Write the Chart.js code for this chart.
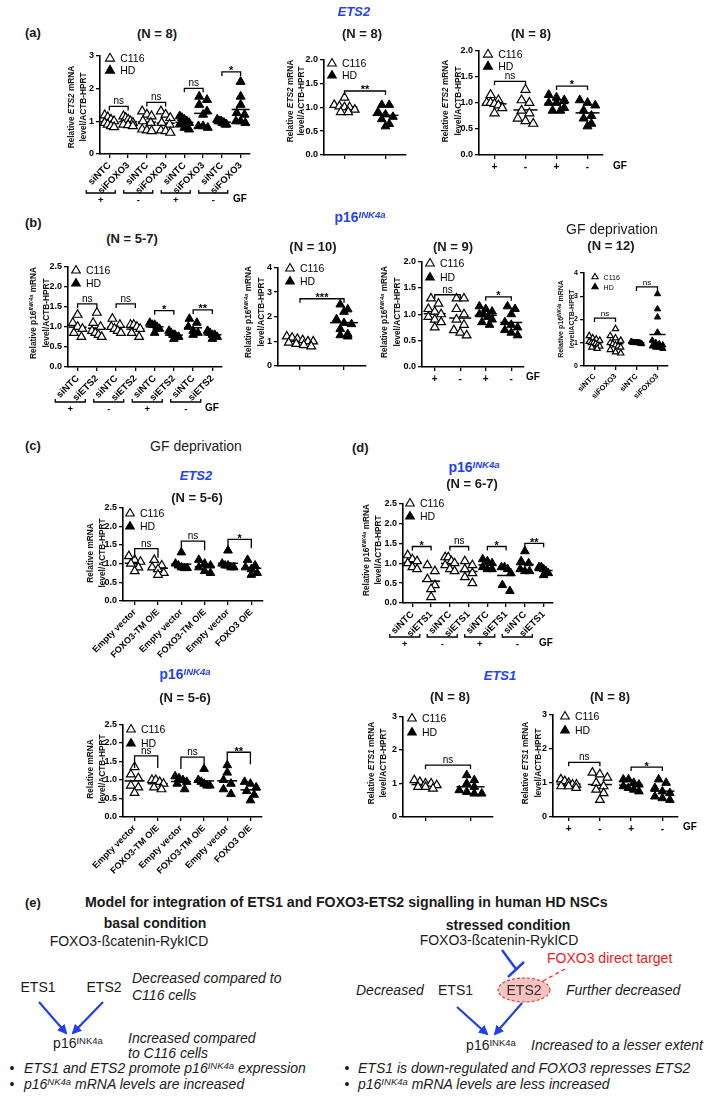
<!DOCTYPE html>
<html>
<head>
<meta charset="utf-8">
<title>ETS2 / p16INK4a / ETS1 in HD NSCs</title>
<script src="https://cdn.jsdelivr.net/npm/chart.js@4.4.1/dist/chart.umd.min.js"></script>
<style>
  body { margin: 0; background: #fff; }
  #fig { position: relative; width: 709px; height: 1102px; overflow: hidden; background: #fff;
         font-family: 'Liberation Sans', Arial, Helvetica, sans-serif; color: #1a1a1a; }
  #fig canvas, #fig svg { position: absolute; }
  .t, .l, .yt { position: absolute; white-space: nowrap; line-height: 1; }
  .t { transform: translate(-50%, -50%); }
  .l { transform: translateY(-50%); }
  .yt { transform: translate(-50%, -50%) rotate(-90deg); font-weight: bold; font-size: 8.3px; color: #111; }
  .blue { color: #2442f2; font-weight: bold; }
  sup { font-size: 68%; position: relative; top: -0.45em; vertical-align: baseline; line-height: 0; }
</style>
</head>
<body>
<div id="fig">
<svg width="709" height="1102" style="left:0;top:0">
  <defs>
    <marker id="ah" viewBox="0 0 10 10" refX="8" refY="5" markerWidth="4.5" markerHeight="4.5" orient="auto">
      <path d="M0,0 L10,5 L0,10 z" fill="#2040f0"/>
    </marker>
  </defs>
  <!-- basal condition -->
  <line x1="39" y1="1002" x2="66" y2="1033" stroke="#2040f0" stroke-width="2.2" marker-end="url(#ah)"/>
  <line x1="103" y1="1002" x2="73" y2="1033" stroke="#2040f0" stroke-width="2.2" marker-end="url(#ah)"/>
  <!-- stressed condition -->
  <line x1="502" y1="950" x2="516" y2="969" stroke="#2040f0" stroke-width="2.4"/>
  <line x1="508" y1="977" x2="524" y2="962" stroke="#2040f0" stroke-width="2.4"/>
  <line x1="565" y1="969" x2="543" y2="981" stroke="#ee2222" stroke-width="1.2" stroke-dasharray="4,3"/>
  <ellipse cx="524" cy="990" rx="26" ry="12" fill="#f2c4c2" stroke="#e83030" stroke-width="1.1" stroke-dasharray="3,2"/>
  <line x1="457" y1="1007" x2="487" y2="1034" stroke="#2040f0" stroke-width="2.2" marker-end="url(#ah)"/>
  <line x1="522" y1="1003" x2="495" y2="1034" stroke="#2040f0" stroke-width="2.2" marker-end="url(#ah)"/>
</svg>
</div>
<script>
const FONT = "'Liberation Sans', Arial, Helvetica, sans-serif";
Chart.defaults.font.family = FONT;
Chart.defaults.color = '#000';
const fig = document.getElementById('fig');

// ---------- (a) ETS2 ----------
const a1Cats = ["siNTC", "siFOXO3", "siNTC", "siFOXO3", "siNTC", "siFOXO3", "siNTC", "siFOXO3"];
const a1C116 = [
  [1.18, 1.12, 1.05, 1.0, 0.95, 0.9, 0.85, 0.82],
  [1.15, 1.1, 1.05, 1.0, 0.95, 0.9, 0.88, 0.85],
  [1.3, 1.2, 1.15, 1.0, 0.95, 0.75, 0.7, 0.72],
  [1.3, 1.2, 1.1, 0.95, 0.9, 0.7, 0.65, 0.72]
];
const a1HD = [
  [1.15, 1.1, 1.05, 1.0, 0.95, 0.9, 0.8, 0.75],
  [1.75, 1.65, 1.5, 1.3, 1.2, 0.85, 0.85, 0.8],
  [1.05, 1.0, 1.0, 0.95, 0.95, 0.9, 0.9, 1.0],
  [2.2, 1.75, 1.5, 1.25, 1.2, 1.0, 1.0, 0.95]
];
const a1Sig = [[0, 1, 1.45, "ns"], [2, 3, 1.57, "ns"], [4, 5, 2.0, "ns"], [6, 7, 2.5, "*"]];
const gfSigns = ["+", "-", "+", "-"];

const a2Cats = ["C116", "HD"];
const a2C116 = [[1.2, 1.05, 1.02, 1.0, 1.0, 0.95, 0.9, 0.9]];
const a2HD = [[1.05, 1.05, 0.9, 0.85, 0.8, 0.75, 0.65, 0.6]];
const a2Sig = [[0, 1, 1.34, "**"]];

const a3C116 = [[1.15, 1.05, 1.0, 1.0, 0.98, 0.95, 0.9, 0.8], [1.25, 1.05, 1.0, 0.85, 0.8, 0.7, 0.65, 0.6]];
const a3HD = [[1.15, 1.1, 1.05, 1.0, 1.0, 0.9, 0.85, 0.85], [1.05, 1.0, 0.95, 0.85, 0.75, 0.7, 0.6, 0.55]];
const a3Sig = [[0, 1, 1.41, "ns"], [2, 3, 1.32, "*"]];

// ---------- (b) p16INK4a ----------
const b1Cats = ["siNTC", "siETS2", "siNTC", "siETS2", "siNTC", "siETS2", "siNTC", "siETS2"];
const b1C116 = [
  [1.3, 1.1, 1.0, 0.95, 0.85, 0.75],
  [1.35, 1.1, 1.0, 0.9, 0.85, 0.8, 0.75],
  [1.2, 1.05, 1.0, 0.95, 0.9, 0.85],
  [1.05, 1.05, 1.0, 0.95, 0.85, 0.75]
];
const b1HD = [
  [1.1, 1.05, 1.05, 1.0, 0.95, 0.85],
  [0.9, 0.85, 0.8, 0.8, 0.75, 0.75, 0.7],
  [1.2, 1.1, 1.0, 0.9, 0.85, 0.8],
  [0.9, 0.85, 0.8, 0.8, 0.75, 0.7]
];
const b1Sig = [[0, 1, 1.57, "ns"], [2, 3, 1.57, "ns"], [4, 5, 1.4, "*"], [6, 7, 1.42, "**"]];

const b2C116 = [[1.2, 1.15, 1.1, 1.05, 1.0, 1.0, 0.95, 0.9, 0.85, 0.8]];
const b2HD = [[2.5, 2.3, 2.2, 1.9, 1.75, 1.7, 1.5, 1.3, 1.25, 1.2]];
const b2Sig = [[0, 1, 2.73, "***"]];

const b3C116 = [[1.3, 1.2, 1.1, 1.05, 1.0, 0.95, 0.9, 0.85, 0.75], [1.3, 1.3, 1.1, 1.0, 0.9, 0.8, 0.7, 0.65, 0.6]];
const b3HD = [[1.15, 1.1, 1.05, 1.0, 1.0, 0.95, 0.9, 0.85, 0.8], [1.15, 1.1, 1.0, 0.85, 0.8, 0.75, 0.7, 0.65, 0.6]];
const b3Sig = [[0, 1, 1.37, "ns"], [2, 3, 1.33, "*"]];

const b4Cats = ["siNTC", "siFOXO3", "siNTC", "siFOXO3"];
const b4C116 = [
  [1.3, 1.2, 1.15, 1.1, 1.05, 1.0, 1.0, 0.95, 0.9, 0.85, 0.8, 0.75],
  [1.6, 1.3, 1.2, 1.1, 1.0, 0.95, 0.9, 0.85, 0.8, 0.7, 0.6, 0.55]
];
const b4HD = [
  [1.05, 1.02, 1.0, 1.0, 1.0, 1.0, 0.98, 0.97, 0.95, 1.0, 1.0, 1.0],
  [3.1, 2.45, 2.1, 1.45, 1.1, 1.0, 0.95, 0.9, 0.85, 0.8, 0.8, 0.75]
];
const b4Sig = [[0, 1, 2.06, "ns"], [2, 3, 3.4, "ns"]];

// ---------- (c) GF deprivation ----------
const cCats = ["Empty vector", "FOXO3-TM O/E", "Empty vector", "FOXO3-TM O/E", "Empty vector", "FOXO3 O/E"];
const c1C116 = [[1.2, 1.1, 1.05, 1.0, 0.9, 0.8], [1.1, 0.95, 0.9, 0.85, 0.75, 0.7]];
const c1HD = [[1.3, 1.0, 0.95, 0.9, 0.88, 0.88], [1.1, 1.0, 0.95, 0.9, 0.8, 0.75],
              [1.35, 1.0, 0.95, 0.95, 0.9, 0.9], [1.1, 0.95, 0.9, 0.85, 0.75, 0.7]];
const c1Sig = [[0, 1, 1.4, "ns"], [2, 3, 1.6, "ns"], [4, 5, 1.65, "*"]];

const c2C116 = [[1.35, 1.15, 1.05, 0.85, 0.8, 0.65], [1.0, 1.0, 0.95, 0.9, 0.8, 0.75]];
const c2HD = [[1.1, 1.05, 1.0, 0.95, 0.9, 0.75], [1.3, 1.0, 0.95, 0.9, 0.85, 0.85],
              [1.4, 1.2, 1.0, 0.9, 0.75, 0.62], [0.95, 0.9, 0.8, 0.7, 0.6, 0.45]];
const c2Sig = [[0, 1, 1.65, "ns"], [2, 3, 1.62, "ns"], [4, 5, 1.75, "**"]];

// ---------- (d) p16INK4a and ETS1 ----------
const d1Cats = ["siNTC", "siETS1", "siNTC", "siETS1", "siNTC", "siETS1", "siNTC", "siETS1"];
const d1C116 = [
  [1.2, 1.1, 1.05, 1.0, 0.9, 0.85],
  [0.95, 0.8, 0.6, 0.45, 0.35, 0.15],
  [1.15, 1.15, 1.05, 1.0, 0.95, 0.85, 0.8],
  [1.05, 0.95, 0.85, 0.75, 0.65, 0.5]
];
const d1HD = [
  [1.1, 1.05, 1.0, 0.9, 0.85, 0.85],
  [0.9, 0.9, 0.85, 0.75, 0.45, 0.3],
  [1.3, 1.05, 1.0, 0.85, 0.8, 0.8],
  [0.9, 0.9, 0.85, 0.8, 0.75, 0.7]
];
const d1Sig = [[0, 1, 1.42, "*"], [2, 3, 1.42, "ns"], [4, 5, 1.42, "*"], [6, 7, 1.5, "**"]];

const d2C116 = [[1.1, 1.05, 1.0, 1.0, 0.95, 0.9, 0.9, 0.85]];
const d2HD = [[1.25, 1.1, 1.0, 0.9, 0.8, 0.75, 0.7, 0.7]];
const d2Sig = [[0, 1, 1.55, "ns"]];

const d3C116 = [[1.1, 1.05, 1.0, 0.95, 0.95, 0.9, 0.9, 0.85], [1.3, 1.25, 1.15, 1.0, 0.9, 0.8, 0.7, 0.5]];
const d3HD = [[1.1, 1.1, 1.0, 0.95, 0.9, 0.85, 0.8, 0.75], [1.1, 1.0, 0.85, 0.75, 0.7, 0.6, 0.55, 0.5]];
const d3Sig = [[0, 1, 1.6, "ns"], [2, 3, 1.46, "*"]];

// text helper
function put(html, x, y, css, cls) {
  const d = document.createElement('div');
  d.className = cls || 't';
  d.innerHTML = html;
  d.style.left = x + 'px';
  d.style.top = y + 'px';
  if (css) d.style.cssText += css;
  fig.appendChild(d);
}

// spread points of one group in rows (GraphPad-like scatter dot plot)
function swarm(vals, cat, pxX, pxY, r, maxW) {
  const h = r * 1.3, w = r * 1.5;
  const sorted = vals.slice().sort((a, b) => b - a);
  const rows = [];
  sorted.forEach(v => {
    const row = rows[rows.length - 1];
    if (row && (row[0] - v) * pxY < h) row.push(v); else rows.push([v]);
  });
  const pts = [];
  rows.forEach(row => {
    const k = row.length;
    const sp = k > 1 ? Math.min(w, maxW / (k - 1)) : 0;
    row.forEach((v, j) => pts.push({ x: cat + (j - (k - 1) / 2) * sp / pxX, y: v }));
  });
  return pts;
}

function tri(ctx, x, y, r, fill) {
  ctx.beginPath();
  ctx.moveTo(x, y - r);
  ctx.lineTo(x + r * 0.866, y + r * 0.5);
  ctx.lineTo(x - r * 0.866, y + r * 0.5);
  ctx.closePath();
  ctx.fillStyle = fill ? '#000' : '#fff';
  ctx.fill();
  ctx.lineWidth = 1.1;
  ctx.stroke();
}

function decorate(chart, s) {
  const ctx = chart.ctx, xs = chart.scales.x, ys = chart.scales.y, ca = chart.chartArea;
  ctx.save();
  ctx.strokeStyle = '#000';
  // legend
  const [lx, ly, lg] = s.leg, lr = s.lr || s.r;
  tri(ctx, ca.left + lx, ca.top + ly, lr, false);
  tri(ctx, ca.left + lx, ca.top + ly + lg, lr, true);
  ctx.fillStyle = '#000';
  ctx.font = (s.lfs || 10.5) + 'px ' + FONT;
  ctx.textAlign = 'left';
  ctx.textBaseline = 'middle';
  ctx.fillText('C116', ca.left + lx + lr + 5, ca.top + ly + 1);
  ctx.fillText('HD', ca.left + lx + lr + 5, ca.top + ly + lg + 1);
  // significance brackets
  const fs = s.sfs || 10, leg = s.sleg || 4;
  ctx.lineWidth = 1.3;
  ctx.textAlign = 'center';
  s.sig.forEach(([i, j, v, lab]) => {
    const x1 = xs.getPixelForValue(i), x2 = xs.getPixelForValue(j), y = ys.getPixelForValue(v);
    ctx.beginPath();
    ctx.moveTo(x1, y + leg); ctx.lineTo(x1, y); ctx.lineTo(x2, y); ctx.lineTo(x2, y + leg);
    ctx.stroke();
    ctx.textBaseline = 'alphabetic';
    if (lab === 'ns') {
      ctx.font = fs + 'px ' + FONT;
      ctx.fillText(lab, (x1 + x2) / 2, y - 2);
    } else {
      ctx.font = 'bold ' + (fs + 1) + 'px ' + FONT;
      ctx.fillText(lab, (x1 + x2) / 2, y - 2 + 0.4 * (fs + 1));
    }
  });
  // GF group brackets under rotated labels
  ctx.font = 'bold 9.5px ' + FONT;
  ctx.textBaseline = 'middle';
  if (s.grp) {
    s.grp.forEach((lab, k) => {
      const cx = (xs.getPixelForValue(2 * k) + xs.getPixelForValue(2 * k + 1)) / 2 + s.gOff;
      const y = ca.bottom + s.gDy;
      ctx.beginPath();
      ctx.moveTo(cx - s.hw, y - 3); ctx.lineTo(cx - s.hw, y); ctx.lineTo(cx + s.hw, y); ctx.lineTo(cx + s.hw, y - 3);
      ctx.stroke();
      ctx.fillText(lab, cx, y + 7);
    });
  }
  if (s.gf) {
    ctx.font = 'bold 10px ' + FONT;
    ctx.fillText('GF', ca.right + s.gf[0], ca.bottom + s.gf[1]);
  }
  ctx.restore();
}

function makeChart(s) {
  const yw = 46, pt = 10, pr = s.pr || 34;
  const n = s.cats.length;
  const pxX = (s.R - s.L) / n, pxY = (s.B - s.T) / s.ymax;
  const groups = s.c116.concat(s.hd);
  const open = [], filled = [], means = [];
  groups.forEach((vals, i) => {
    const pts = swarm(vals, i, pxX, pxY, s.r, pxX * (s.spread || 0.5));
    (i < s.c116.length ? open : filled).push(...pts);
    means.push({ x: i, y: vals.reduce((a, b) => a + b, 0) / vals.length });
  });
  const cv = document.createElement('canvas');
  const w = yw + s.R - s.L + pr, h = pt + s.B - s.T + s.xh;
  cv.width = w; cv.height = h;
  Object.assign(cv.style, { left: (s.L - yw) + 'px', top: (s.T - pt) + 'px', width: w + 'px', height: h + 'px' });
  fig.appendChild(cv);
  const grid = { drawOnChartArea: false, drawTicks: true, tickLength: 4, color: '#000', lineWidth: 1.3 };
  const border = { color: '#000', width: 1.6 };
  new Chart(cv, {
    type: 'scatter',
    data: {
      datasets: [
        { data: open, pointStyle: 'triangle', pointRadius: s.r, pointHoverRadius: s.r,
          pointBackgroundColor: '#fff', pointBorderColor: '#000', pointBorderWidth: 1.2, clip: false },
        { data: filled, pointStyle: 'triangle', pointRadius: s.r, pointHoverRadius: s.r,
          pointBackgroundColor: '#000', pointBorderColor: '#000', pointBorderWidth: 1, clip: false },
        { data: means, pointStyle: 'line', pointRadius: s.mr, pointHoverRadius: s.mr,
          pointBorderColor: '#000', pointBorderWidth: 1.5, clip: false }
      ]
    },
    options: {
      responsive: false,
      animation: false,
      devicePixelRatio: 1,
      events: [],
      layout: { padding: { top: pt, right: pr, left: 0, bottom: 0 } },
      plugins: { legend: { display: false }, tooltip: { enabled: false } },
      scales: {
        x: {
          type: 'linear', min: -0.5, max: n - 0.5,
          afterBuildTicks: sc => { sc.ticks = s.cats.map((c, i) => ({ value: i })); },
          afterFit: sc => { sc.height = s.xh; },
          grid, border,
          ticks: {
            autoSkip: false, minRotation: s.rot || 0, maxRotation: s.rot || 0, padding: 2, color: '#000',
            font: { size: s.xfs || 10, weight: 'bold' },
            callback: v => (s.showX === false ? '' : s.cats[v])
          }
        },
        y: {
          min: 0, max: s.ymax,
          afterFit: sc => { sc.width = yw; },
          grid, border,
          ticks: {
            stepSize: s.step, padding: 2, color: '#000',
            font: { size: s.yfs || 9, weight: 'bold' },
            callback: v => v.toFixed(s.dec)
          }
        }
      }
    },
    plugins: [{ id: 'deco', afterDraw: chart => decorate(chart, s) }]
  });
}

const charts = [
  { cats: a1Cats, c116: a1C116, hd: a1HD, sig: a1Sig, grp: gfSigns,
    L: 100, R: 250, T: 55, B: 154, ymax: 3, step: 1, dec: 0, r: 5.2, mr: 9, rot: 45, xfs: 9.5, xh: 60,
    gOff: -18, hw: 14.5, gDy: 39, gf: [-10, 45], leg: [10, 3, 12] },
  { cats: a2Cats, c116: a2C116, hd: a2HD, sig: a2Sig, showX: false,
    L: 324, R: 406, T: 55, B: 155, ymax: 2, step: 0.5, dec: 1, r: 5, mr: 13, xh: 22, leg: [8, 4, 12] },
  { cats: gfSigns, c116: a3C116, hd: a3HD, sig: a3Sig,
    L: 479, R: 603, T: 47, B: 155, ymax: 2, step: 0.5, dec: 1, r: 5.2, mr: 12, xh: 22, gf: [17, 11], leg: [9, 4, 12] },
  { cats: b1Cats, c116: b1C116, hd: b1HD, sig: b1Sig, grp: gfSigns,
    L: 68, R: 222, T: 266, B: 367, ymax: 2.5, step: 0.5, dec: 1, r: 5, mr: 9, rot: 45, xfs: 9.5, xh: 52,
    gOff: -17, hw: 15, gDy: 35, gf: [-10, 41], leg: [8, 4, 13] },
  { cats: a2Cats, c116: b2C116, hd: b2HD, sig: b2Sig, showX: false, spread: 0.6,
    L: 278, R: 366, T: 262, B: 366, ymax: 4, step: 1, dec: 0, r: 5, mr: 14, xh: 22, leg: [12, 1, 13] },
  { cats: gfSigns, c116: b3C116, hd: b3HD, sig: b3Sig,
    L: 422, R: 524, T: 259, B: 367, ymax: 2, step: 0.5, dec: 1, r: 5, mr: 11, xh: 22, gf: [9, 10], leg: [8, 2, 14] },
  { cats: b4Cats, c116: b4C116, hd: b4HD, sig: b4Sig,
    L: 584, R: 668, T: 273, B: 366, ymax: 4, step: 1, dec: 0, r: 3.6, mr: 8, rot: 45, xfs: 7.5, yfs: 7, xh: 42,
    leg: [11, 4, 10], lfs: 7, sfs: 8 },
  { cats: cCats, c116: c1C116, hd: c1HD, sig: c1Sig, sleg: 9,
    L: 123, R: 263, T: 506, B: 601, ymax: 2.5, step: 0.5, dec: 1, r: 5, mr: 10, rot: 45, xfs: 9, xh: 66,
    leg: [7, 6, 13] },
  { cats: cCats, c116: c2C116, hd: c2HD, sig: c2Sig, sleg: 12,
    L: 123, R: 262, T: 723, B: 817, ymax: 2.5, step: 0.5, dec: 1, r: 5, mr: 10, rot: 45, xfs: 9, xh: 66,
    leg: [8, 5, 14] },
  { cats: d1Cats, c116: d1C116, hd: d1HD, sig: d1Sig, grp: gfSigns,
    L: 403, R: 553, T: 503, B: 603, ymax: 2.5, step: 0.5, dec: 1, r: 5, mr: 9, rot: 45, xfs: 9.5, xh: 52,
    gOff: -17, hw: 15, gDy: 34, gf: [-7, 40], leg: [7, 0, 13] },
  { cats: a2Cats, c116: d2C116, hd: d2HD, sig: d2Sig, showX: false,
    L: 403, R: 493, T: 711, B: 817, ymax: 3, step: 1, dec: 0, r: 5, mr: 14, xh: 22, leg: [9, 2, 14] },
  { cats: gfSigns, c116: d3C116, hd: d3HD, sig: d3Sig,
    L: 553, R: 678, T: 711, B: 817, ymax: 3, step: 1, dec: 0, r: 5, mr: 12, xh: 22, gf: [12, 10], leg: [12, 2, 14] }
];
charts.forEach(makeChart);

// ---- headings, panel letters, chart titles ----
const H = 'font-size:13px;font-weight:bold';
put('<i>ETS2</i>', 354, 11, 'font-size:13px', 't blue');
put('(a)', 25, 32, H, 'l');
put('(N = 8)', 157, 33, H);
put('(N = 8)', 362, 33, H);
put('(N = 8)', 531, 33, H);
put('p16<sup><i>INK4a</i></sup>', 360, 217, 'font-size:14px', 't blue');
put('(b)', 25, 222, H, 'l');
put('(N = 5-7)', 132, 238, H);
put('(N = 10)', 313, 246, H);
put('(N = 9)', 453, 246, H);
put('GF deprivation', 612, 229, 'font-size:14px');
put('(N = 12)', 611, 245, H);
put('(c)', 25, 445, H, 'l');
put('GF deprivation', 196, 446, 'font-size:14px');
put('<i>ETS2</i>', 196, 475, 'font-size:13px', 't blue');
put('(N = 5-6)', 197, 497, H);
put('p16<sup><i>INK4a</i></sup>', 185, 674, 'font-size:14px', 't blue');
put('(N = 5-6)', 185, 697, H);
put('(d)', 352, 447, H, 'l');
put('p16<sup><i>INK4a</i></sup>', 474, 467, 'font-size:14px', 't blue');
put('(N = 6-7)', 472, 483, H);
put('<i>ETS1</i>', 500, 675, 'font-size:13px', 't blue');
put('(N = 8)', 450, 696, H);
put('(N = 8)', 610, 696, H);

// ---- y axis titles ----
const p16 = 'Relative p16<sup><i>INK4a</i></sup> mRNA';
const lev = 'level/ACTB-HPRT';
[
  ['Relative <i>ETS2</i> mRNA', 71, 83, 107], ['Relative <i>ETS2</i> mRNA', 290, 301, 101],
  ['Relative <i>ETS2</i> mRNA', 445, 458, 101],
  [p16, 33, 46, 313], [p16, 248, 261, 312], [p16, 384, 397, 312],
  ['Relative mRNA', 90, 102, 553], ['Relative mRNA', 90, 102, 769],
  [p16, 366, 378, 550], ['Relative <i>ETS1</i> mRNA', 371, 383, 763], ['Relative <i>ETS1</i> mRNA', 525, 538, 763]
].forEach(([t, x1, x2, y]) => { put(t, x1, y, '', 'yt'); put(lev, x2, y, '', 'yt'); });
put(p16, 560, 319, 'font-size:7px', 'yt');
put(lev, 571, 319, 'font-size:7px', 'yt');

// ---- (e) model ----
const D = 'font-size:14px';
put('(e)', 25, 902, H, 'l');
put('Model for integration of ETS1 and FOXO3-ETS2 signalling in human HD NSCs', 85, 902, 'font-size:14.2px;font-weight:bold', 'l');
put('basal condition', 155, 923, 'font-size:14px;font-weight:bold');
put('FOXO3-ßcatenin-RykICD', 129, 941, D);
put('ETS1', 38, 987, D);
put('ETS2', 104, 987, D);
put('<i>Decreased compared to</i>', 132, 978, D, 'l');
put('<i>C116 cells</i>', 132, 995, D, 'l');
put('p16<sup>INK4a</sup>', 78, 1043, D);
put('<i>Increased compared</i>', 128, 1038, D, 'l');
put('<i>to C116 cells</i>', 128, 1053, D, 'l');
put('•', 12, 1068, D);
put('<i>ETS1 and ETS2 promote p16<sup>INK4a</sup> expression</i>', 24, 1068, D, 'l');
put('•', 12, 1084, D);
put('<i>p16<sup>NK4a</sup> mRNA levels are increased</i>', 24, 1084, D, 'l');

put('stressed condition', 508, 925, 'font-size:14px;font-weight:bold');
put('FOXO3-ßcatenin-RykICD', 499, 940, D);
put('FOXO3 direct target', 547, 958, D + ';color:#f01818', 'l');
put('<i>Decreased</i>', 356, 990, D, 'l');
put('ETS1', 438, 990, D, 'l');
put('ETS2', 524, 990, D + ';color:#4a2424');
put('<i>Further decreased</i>', 566, 990, D, 'l');
put('p16<sup>INK4a</sup>', 491, 1045, D);
put('<i>Increased to a lesser extent</i>', 531, 1045, D, 'l');
put('•', 347, 1068, D);
put('<i>ETS1 is down-regulated and FOXO3 represses ETS2</i>', 358, 1068, D, 'l');
put('•', 347, 1084, D);
put('<i>p16<sup>INK4a</sup> mRNA levels are less increased</i>', 358, 1084, D, 'l');
</script>
</body>
</html>
